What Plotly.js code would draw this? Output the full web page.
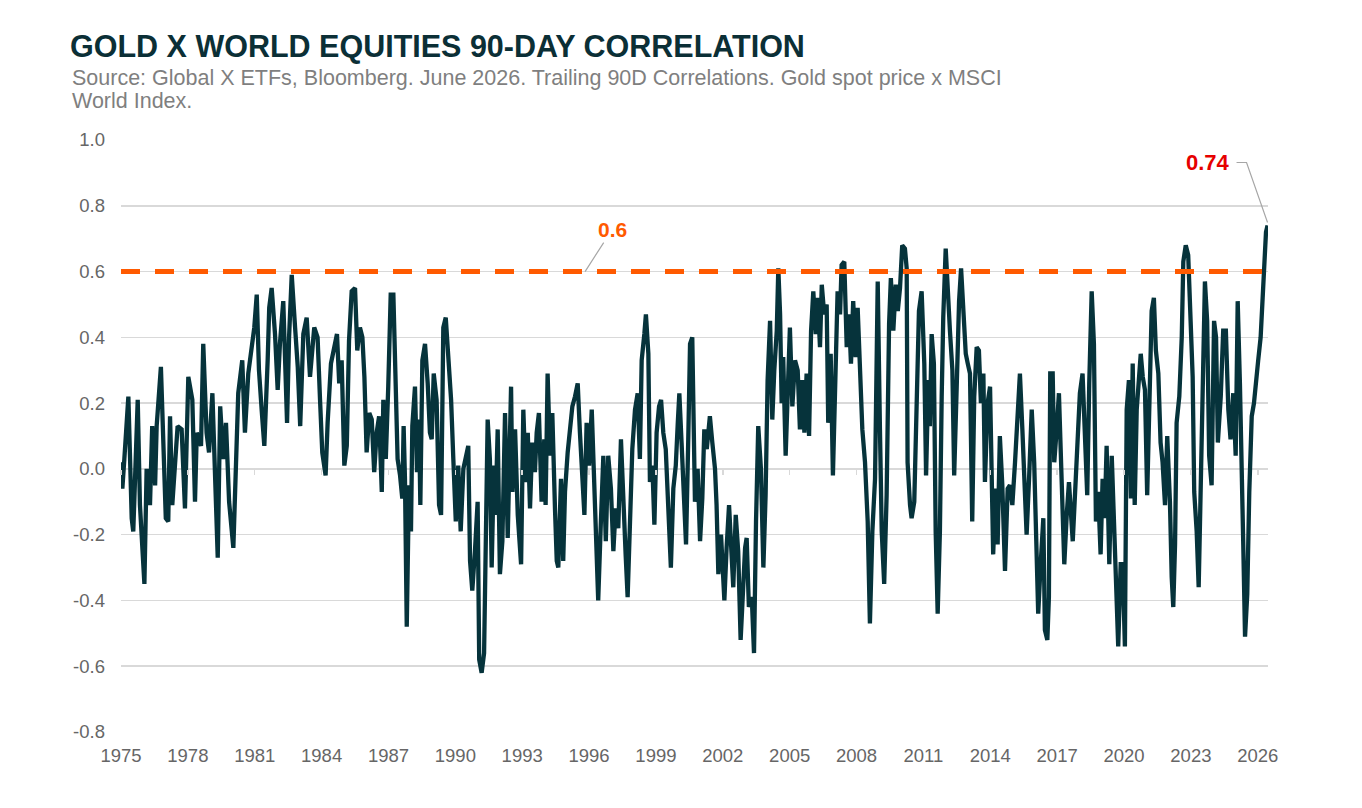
<!DOCTYPE html>
<html>
<head>
<meta charset="utf-8">
<script src="https://cdn.plot.ly/plotly-3.0.1.min.js"></script>
<style>
html,body{margin:0;padding:0;background:#ffffff;}
#chart{width:1362px;height:808px;}
</style>
</head>
<body>
<div id="chart"></div>
<script>
// Decimal years
const years = [
1975.00,1975.06,1975.15,1975.33,1975.48,1975.55,1975.75,1975.85,1976.05,1976.15,
1976.30,1976.40,1976.53,1976.60,1976.79,1976.90,1977.01,1977.12,1977.20,1977.30,
1977.42,1977.54,1977.72,1977.87,1978.02,1978.20,1978.32,1978.40,1978.59,1978.69,
1978.84,1978.95,1979.10,1979.22,1979.34,1979.45,1979.59,1979.71,1979.85,1980.04,
1980.15,1980.26,1980.44,1980.56,1980.71,1980.86,1980.98,1981.09,1981.19,1981.31,
1981.43,1981.58,1981.65,1981.76,1981.91,1982.03,1982.13,1982.28,1982.45,1982.54,
1982.66,1982.81,1982.93,1983.04,1983.18,1983.33,1983.48,1983.67,1983.82,1983.93,
1984.03,1984.18,1984.27,1984.42,1984.57,1984.69,1984.79,1984.90,1985.02,1985.13,
1985.23,1985.35,1985.50,1985.60,1985.72,1985.83,1985.92,1986.02,1986.14,1986.25,
1986.36,1986.47,1986.58,1986.70,1986.77,1986.88,1986.99,1987.10,1987.22,1987.29,
1987.41,1987.52,1987.62,1987.68,1987.74,1987.82,1987.92,1988.01,1988.07,1988.19,
1988.28,1988.37,1988.43,1988.52,1988.64,1988.76,1988.86,1988.94,1989.03,1989.16,
1989.27,1989.36,1989.46,1989.57,1989.68,1989.81,1989.91,1990.02,1990.13,1990.24,
1990.36,1990.46,1990.58,1990.66,1990.76,1990.88,1991.00,1991.07,1991.18,1991.29,
1991.38,1991.45,1991.55,1991.63,1991.73,1991.80,1991.90,1992.00,
1992.11,1992.23,1992.35,1992.50,1992.56,1992.68,1992.80,1992.95,1993.05,1993.16,
1993.25,1993.35,1993.45,1993.57,1993.65,1993.75,1993.87,1993.99,1994.05,1994.14,
1994.25,1994.35,1994.47,1994.55,1994.62,1994.74,1994.84,1994.92,1995.04,1995.14,
1995.25,1995.37,1995.49,1995.59,1995.67,1995.79,1995.89,1996.00,1996.12,1996.23,
1996.34,1996.41,1996.53,1996.64,1996.75,1996.86,1996.98,1997.09,1997.19,1997.31,
1997.43,1997.54,1997.64,1997.73,1997.84,1997.94,1998.06,1998.18,1998.28,1998.36,
1998.48,1998.55,1998.66,1998.73,1998.84,1998.93,1999.03,1999.14,1999.23,1999.33,
1999.44,1999.55,1999.67,1999.78,1999.89,1999.98,2000.05,2000.15,2000.27,2000.35,
2000.45,2000.53,
2000.63,2000.75,2000.87,2000.98,2001.08,2001.17,2001.28,2001.42,2001.53,2001.65,
2001.72,2001.80,2001.92,2002.07,2002.17,2002.28,2002.37,2002.47,2002.58,2002.69,
2002.80,2002.92,2003.00,2003.07,2003.17,2003.30,2003.40,2003.49,2003.59,2003.71,
2003.82,2003.92,2004.01,2004.12,2004.22,2004.31,2004.42,2004.49,2004.57,2004.64,
2004.71,2004.82,2004.91,2005.01,2005.12,2005.24,2005.36,2005.46,2005.57,2005.66,
2005.76,2005.87,2005.96,2006.06,2006.17,2006.26,2006.36,2006.44,2006.55,2006.66,
2006.73,2006.84,2006.94,2007.03,2007.15,2007.26,2007.33,2007.45,2007.56,2007.66,
2007.75,2007.85,2007.96,2008.05,2008.15,2008.26,2008.38,2008.50,2008.60,2008.71,
2008.83,2008.95,
2009.05,2009.13,2009.24,2009.35,2009.46,2009.54,2009.65,2009.76,2009.85,2009.95,
2010.05,2010.17,2010.25,2010.29,2010.40,2010.47,2010.59,2010.70,2010.80,2010.92,
2011.04,2011.12,2011.22,2011.29,2011.37,2011.47,2011.55,2011.64,2011.74,2011.82,
2011.89,2012.00,2012.09,2012.19,2012.30,2012.38,2012.49,2012.60,2012.69,2012.79,
2012.90,2012.99,2013.09,2013.19,2013.28,2013.39,2013.49,2013.58,2013.69,2013.76,
2013.88,2013.99,2014.06,2014.13,2014.24,2014.33,2014.43,2014.54,2014.66,2014.78,
2014.88,2014.99,2015.11,2015.23,2015.33,2015.44,2015.56,2015.63,2015.74,2015.86,
2015.97,2016.08,2016.15,2016.26,2016.38,2016.45,2016.56,2016.63,2016.69,2016.80,
2016.87,2016.98,2017.08,2017.20,2017.32,2017.43,2017.53,
2017.70,2017.80,2017.90,2018.02,2018.14,2018.25,2018.35,2018.44,2018.55,2018.65,
2018.74,2018.84,2018.95,2019.04,2019.13,2019.22,2019.34,2019.45,2019.55,2019.64,
2019.74,2019.85,2019.94,2020.04,2020.12,2020.22,2020.31,2020.39,2020.48,2020.57,
2020.66,2020.75,2020.84,2020.94,2021.04,2021.13,2021.24,2021.34,2021.43,2021.54,
2021.64,2021.73,2021.84,2021.94,2022.06,2022.14,2022.21,2022.29,2022.36,2022.48,
2022.59,2022.66,2022.77,2022.88,2022.99,2023.08,2023.15,2023.26,2023.35,2023.44,
2023.53,2023.63,2023.73,2023.82,2023.93,2024.04,2024.13,2024.21,2024.34,2024.45,
2024.57,2024.68,2024.78,2024.90,2025.01,2025.10,2025.20,2025.28,2025.35,2025.43,
2025.53,2025.62,2025.73,2025.83,2025.92,2026.02,2026.13,2026.22,2026.28,2026.37,
2026.44
];

// Trailing 90D correlation, gold spot x MSCI World
const corr = [
0.02,-0.06,0.03,0.22,-0.15,-0.19,0.21,-0.11,-0.35,0.00,
-0.11,0.13,-0.05,0.13,0.31,0.07,-0.15,-0.16,0.16,-0.11,
0.03,0.13,0.12,-0.12,0.28,0.21,-0.10,0.11,0.07,0.38,
0.11,0.05,0.23,-0.07,-0.27,0.19,0.03,0.14,-0.10,-0.24,
-0.02,0.23,0.33,0.11,0.29,0.37,0.43,0.53,0.30,0.18,
0.07,0.33,0.49,0.55,0.41,0.24,0.38,0.51,0.14,0.40,
0.59,0.43,0.31,0.13,0.41,0.46,0.28,0.43,0.40,0.21,
0.05,-0.02,0.14,0.32,0.37,0.41,0.26,0.33,0.01,0.07,
0.39,0.54,0.55,0.36,0.43,0.40,0.28,0.05,0.17,0.15,
-0.01,0.11,0.16,-0.07,0.21,0.03,0.25,0.53,0.53,0.33,
0.03,-0.02,-0.09,0.13,-0.03,-0.48,-0.05,-0.19,0.13,0.25,
-0.01,0.15,-0.11,0.33,0.38,0.26,0.11,0.09,0.29,0.21,
-0.11,-0.14,0.43,0.46,0.35,0.21,0.03,-0.16,0.01,-0.19,
0.00,0.03,0.07,-0.28,-0.37,-0.25,-0.10,-0.58,-0.62,-0.56,
-0.12,0.15,0.03,-0.30,0.01,-0.14,0.12,-0.32,
-0.22,0.17,-0.21,0.25,-0.07,0.12,-0.14,-0.29,0.18,-0.04,
0.11,-0.12,0.08,-0.01,0.11,0.17,-0.10,0.09,-0.11,0.29,
0.04,0.17,-0.12,-0.28,-0.30,-0.03,-0.28,-0.07,0.05,0.12,
0.19,0.22,0.26,0.11,0.01,-0.14,0.14,0.01,0.18,-0.04,
-0.28,-0.40,-0.16,0.04,-0.22,0.04,-0.06,-0.25,-0.12,-0.18,
0.09,-0.06,-0.26,-0.39,-0.12,0.06,0.18,0.23,0.03,0.33,
0.41,0.47,0.35,-0.04,0.01,-0.17,0.11,0.19,0.21,0.11,
0.06,-0.10,-0.30,-0.06,0.01,0.14,0.23,0.08,-0.10,-0.23,
0.09,0.38,
0.40,-0.10,0.00,-0.22,-0.09,0.12,0.06,0.16,0.08,0.00,
-0.11,-0.32,-0.20,-0.40,-0.24,-0.11,-0.23,-0.36,-0.14,-0.25,
-0.52,-0.34,-0.24,-0.21,-0.42,-0.39,-0.56,-0.16,0.13,0.00,
-0.30,-0.08,0.27,0.45,0.15,0.30,0.42,0.61,0.47,0.20,
0.34,0.04,0.27,0.43,0.19,0.33,0.30,0.12,0.27,0.11,
0.29,0.10,0.42,0.54,0.41,0.52,0.37,0.56,0.47,0.50,
0.14,0.35,-0.02,0.22,0.54,0.47,0.62,0.63,0.37,0.47,
0.32,0.51,0.34,0.49,0.30,0.12,0.02,-0.16,-0.47,-0.19,
-0.03,0.57,
0.12,-0.19,-0.35,-0.08,0.44,0.58,0.42,0.56,0.48,0.55,
0.68,0.67,0.61,0.02,-0.11,-0.15,-0.10,0.22,0.48,0.54,
0.32,-0.02,0.27,0.13,0.41,0.32,-0.19,-0.44,-0.19,0.22,
0.46,0.67,0.52,0.42,0.30,-0.02,0.24,0.51,0.61,0.48,
0.35,0.32,0.29,-0.16,0.22,0.37,0.36,0.20,0.29,-0.04,
0.20,0.25,0.02,-0.26,-0.06,-0.23,0.10,-0.05,-0.31,-0.06,
-0.05,-0.11,0.02,0.16,0.29,0.12,-0.08,-0.20,-0.03,0.18,
0.02,-0.24,-0.44,-0.29,-0.15,-0.49,-0.52,-0.39,0.29,0.29,
0.02,0.12,0.23,-0.03,-0.29,-0.14,-0.04,
-0.22,-0.08,0.12,0.23,0.29,0.06,-0.08,0.26,0.54,0.38,
-0.16,-0.07,-0.26,-0.03,-0.15,0.07,-0.29,0.04,-0.18,-0.36,
-0.54,-0.29,-0.29,-0.54,0.18,0.27,-0.09,0.32,-0.11,0.18,
0.29,0.35,0.28,0.24,-0.08,0.13,0.48,0.52,0.36,0.29,
0.08,0.02,-0.11,0.10,-0.10,-0.33,-0.42,-0.23,0.14,0.22,
0.40,0.63,0.68,0.65,0.45,0.28,-0.07,-0.19,-0.36,-0.06,
0.28,0.57,0.45,0.04,-0.05,0.45,0.40,0.08,0.22,0.42,
0.42,0.18,0.09,0.23,0.04,0.51,0.26,0.06,-0.23,-0.51,
-0.38,-0.07,0.16,0.20,0.25,0.33,0.40,0.54,0.65,0.72,
0.74
];

const yTickVals = [1.0,0.8,0.6,0.4,0.2,0.0,-0.2,-0.4,-0.6,-0.8];
const yTickText = ["1.0","0.8","0.6","0.4","0.2","0.0","-0.2","-0.4","-0.6","-0.8"];
const xTickVals = [1975,1978,1981,1984,1987,1990,1993,1996,1999,2002,2005,2008,2011,2014,2017,2020,2023,2026];
const xTickText = ["1975","1978","1981","1984","1987","1990","1993","1996","1999","2002","2005","2008","2011","2014","2017","2020","2023","2026"];
const threshold = 0.6;
const thresholdLabelYear = 1995.82;

const titleText = "GOLD X WORLD EQUITIES 90-DAY CORRELATION";
const subLine1 = "Source: Global X ETFs, Bloomberg. June 2026. Trailing 90D Correlations. Gold spot price x MSCI";
const subLine2 = "World Index.";

const xRange = [1975, 2026.46];
const yRange = [-0.8, 1.0];
const lastYear = years[years.length - 1];
const lastVal = corr[corr.length - 1];

const FONT = "Liberation Sans, Arial, Helvetica, sans-serif";
const LINE = "#06333B";
const ORANGE = "#FF5A00";

const traces = [
  {
    type: "scatter", mode: "lines", x: years, y: corr,
    line: {color: LINE, width: 4.3, shape: "linear"},
    hoverinfo: "x+y", showlegend: false
  },
  {
    // carrier trace for the small tick marks on the zero line
    type: "scatter", mode: "lines", x: [xTickVals[0]], y: [null],
    xaxis: "x2", yaxis: "y", hoverinfo: "skip", showlegend: false
  }
];

const layout = {
  width: 1362, height: 808,
  margin: {l: 121, r: 94, t: 140, b: 76, pad: 0},
  paper_bgcolor: "#ffffff", plot_bgcolor: "#ffffff",
  showlegend: false,
  title: {
    text: titleText,
    font: {family: FONT, size: 30.5, color: "#0B2F36", weight: 700},
    xref: "container", x: 70 / 1362, xanchor: "left",
    yref: "container", y: 1 - 46 / 808, yanchor: "middle"
  },
  xaxis: {
    range: xRange, tickvals: xTickVals, ticktext: xTickText,
    showgrid: false, zeroline: false, showline: false, ticks: "",
    tickfont: {family: FONT, size: 18.5, color: "#666666"},
    ticklabelstandoff: 10, fixedrange: true
  },
  xaxis2: {
    overlaying: "x", anchor: "free", position: (0 - yRange[0]) / (yRange[1] - yRange[0]),
    range: xRange, tickvals: xTickVals, side: "bottom",
    showticklabels: false, showgrid: false, zeroline: false, showline: false,
    ticks: "outside", ticklen: 5, tickwidth: 1.5, tickcolor: "#D9D9D9"
  },
  yaxis: {
    range: yRange, tickvals: yTickVals, ticktext: yTickText,
    showgrid: true, gridcolor: "#D9D9D9", gridwidth: 1.5,
    zeroline: false, showline: false, ticks: "",
    tickfont: {family: FONT, size: 18.5, color: "#666666"},
    ticklabelstandoff: 15, fixedrange: true
  },
  shapes: [
    {
      type: "line", xref: "paper", x0: 0, x1: 1, yref: "y", y0: threshold, y1: threshold,
      line: {color: ORANGE, width: 5, dash: "19px,15px"}, layer: "above"
    },
    {
      type: "path", xref: "x", yref: "y",
      xsizemode: "pixel", ysizemode: "pixel",
      xanchor: lastYear, yanchor: lastVal,
      path: "M -31,63 L -21,63 L 0,3",
      line: {color: "#A6A6A6", width: 1.2}, layer: "above"
    }
  ],
  annotations: [
    {
      xref: "paper", yref: "paper", x: (70 - 121) / 1147, y: (732 - 78) / 592,
      xanchor: "left", yanchor: "middle", showarrow: false, align: "left",
      text: subLine1, font: {family: FONT, size: 21.5, color: "#7F7F7F"}
    },
    {
      xref: "paper", yref: "paper", x: (70 - 121) / 1147, y: (732 - 101) / 592,
      xanchor: "left", yanchor: "middle", showarrow: false, align: "left",
      text: subLine2, font: {family: FONT, size: 21.5, color: "#7F7F7F"}
    },
    {
      xref: "x", yref: "y", x: thresholdLabelYear, y: threshold,
      text: "<b>" + threshold.toFixed(1) + "</b>",
      font: {family: FONT, size: 21, color: ORANGE},
      showarrow: true, arrowhead: 0, arrowwidth: 1.2, arrowcolor: "#A6A6A6",
      ax: 27, ay: -42, standoff: 0
    },
    {
      xref: "x", yref: "y", x: lastYear, y: lastVal,
      text: "<b>" + lastVal.toFixed(2) + "</b>",
      font: {family: FONT, size: 22, color: "#E60000"},
      showarrow: false, xanchor: "right", yanchor: "middle",
      xshift: -36, yshift: 63
    }
  ]
};

Plotly.newPlot("chart", traces, layout, {displayModeBar: false, staticPlot: true});
</script>
</body>
</html>
